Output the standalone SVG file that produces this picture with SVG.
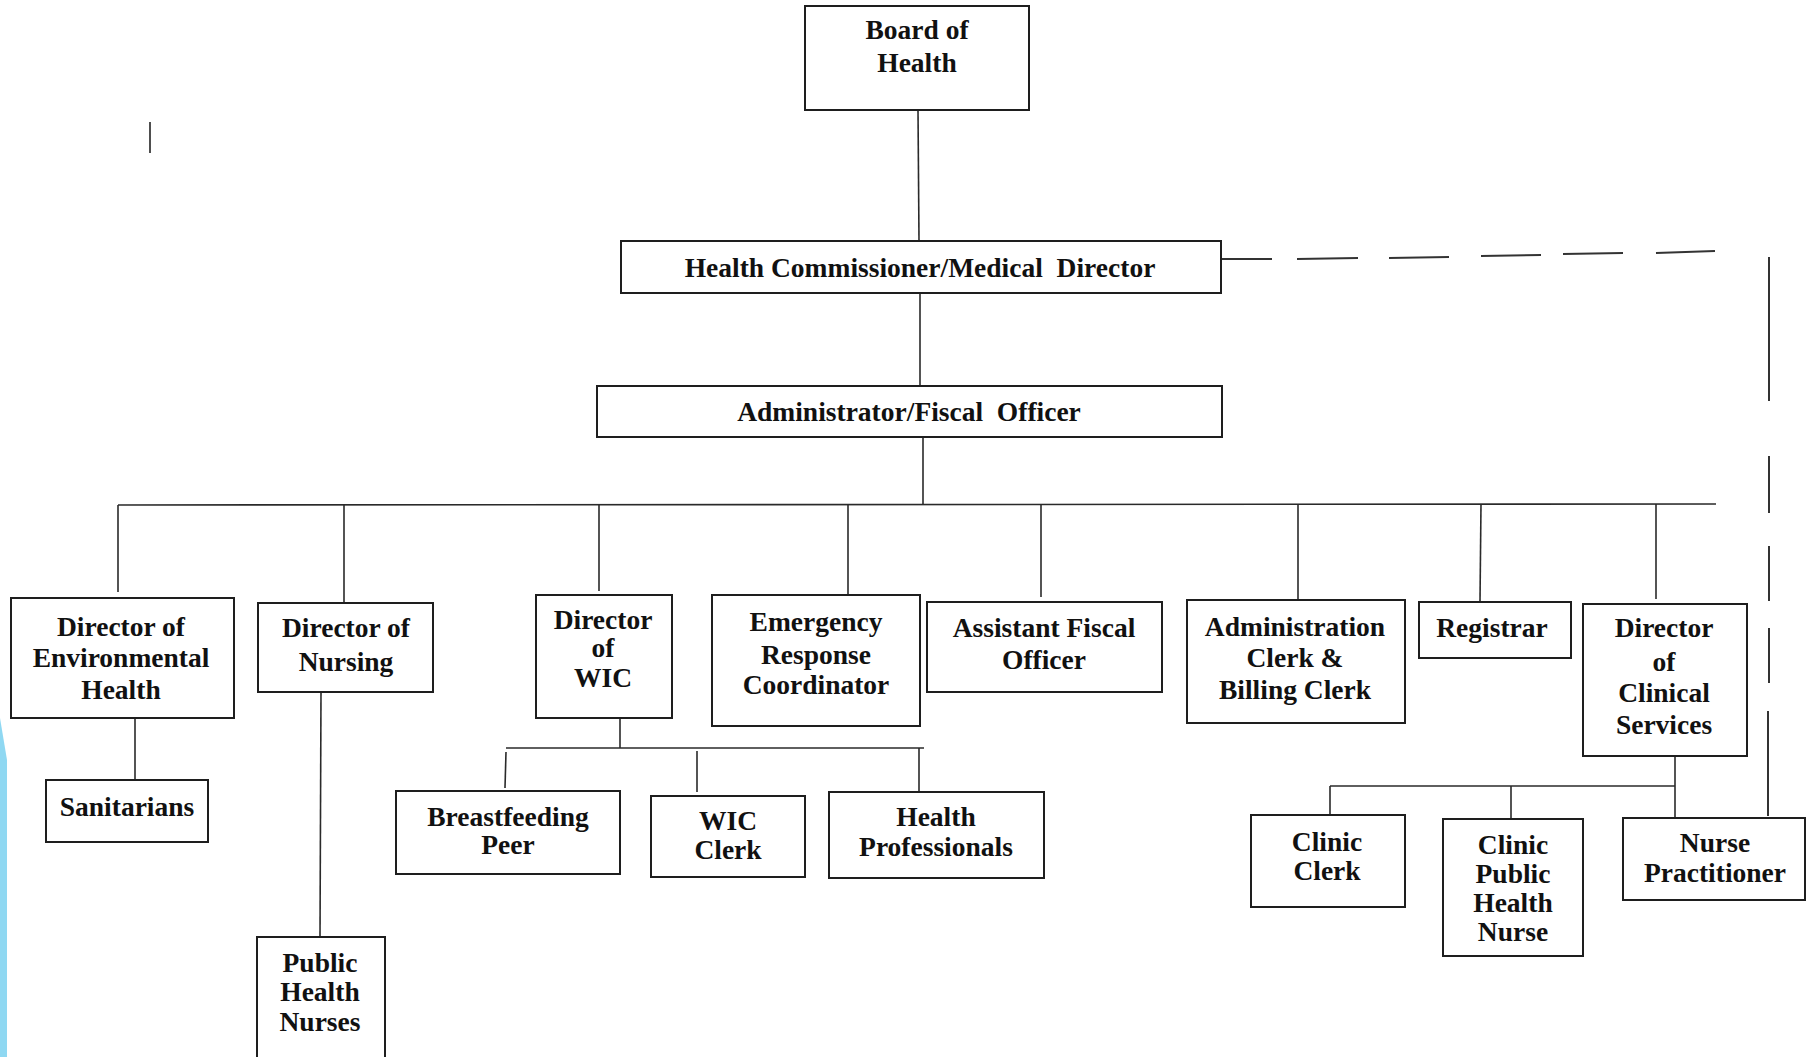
<svg xmlns="http://www.w3.org/2000/svg" width="1811" height="1057" viewBox="0 0 1811 1057">
<style>
.box{fill:#fff;stroke:#1e1e1e;stroke-width:2}
.t{font-family:"Liberation Serif","Times New Roman",serif;font-weight:bold;font-size:27.5px;fill:#111;text-anchor:middle;white-space:pre}
.c{stroke:#2a2a2a;stroke-width:1.6;fill:none}
.d{stroke:#333;stroke-width:2;fill:none}
</style>
<rect width="1811" height="1057" fill="#fff"/>
<polygon points="0,718 7,760 7,1057 0,1057" fill="#8fd8f2"/>
<line x1="150" y1="122" x2="150" y2="153" stroke="#222" stroke-width="1.6"/>

<g id="connectors">
<line class="c" x1="918" y1="110" x2="919" y2="241"/>
<line class="c" x1="920" y1="293" x2="920" y2="386"/>
<line class="c" x1="923" y1="437" x2="923" y2="505"/>
<line class="c" x1="118" y1="505" x2="1716" y2="504"/>
<line class="c" x1="118" y1="505" x2="118" y2="592"/>
<line class="c" x1="344" y1="505" x2="344" y2="603"/>
<line class="c" x1="599" y1="505" x2="599" y2="591"/>
<line class="c" x1="848" y1="505" x2="848" y2="595"/>
<line class="c" x1="1041" y1="505" x2="1041" y2="597"/>
<line class="c" x1="1298" y1="504" x2="1298" y2="600"/>
<line class="c" x1="1481" y1="504" x2="1480" y2="602"/>
<line class="c" x1="1656" y1="504" x2="1656" y2="599"/>
<line class="c" x1="135" y1="718" x2="135" y2="780"/>
<line class="c" x1="321" y1="692" x2="320" y2="937"/>
<line class="c" x1="620" y1="718" x2="620" y2="748"/>
<line class="c" x1="506" y1="748" x2="924" y2="748"/>
<line class="c" x1="506" y1="752" x2="505" y2="788"/>
<line class="c" x1="697" y1="751" x2="697" y2="792"/>
<line class="c" x1="919" y1="748" x2="919" y2="792"/>
<line class="c" x1="1675" y1="756" x2="1675" y2="818"/>
<line class="c" x1="1330" y1="786" x2="1675" y2="786"/>
<line class="c" x1="1330" y1="786" x2="1330" y2="815"/>
<line class="c" x1="1511" y1="786" x2="1511" y2="819"/>
<line class="d" x1="1221" y1="259" x2="1272" y2="259"/>
<line class="d" x1="1297" y1="259" x2="1358" y2="258"/>
<line class="d" x1="1389" y1="258" x2="1449" y2="257"/>
<line class="d" x1="1481" y1="256" x2="1541" y2="255"/>
<line class="d" x1="1563" y1="254" x2="1623" y2="253"/>
<line class="d" x1="1656" y1="253" x2="1715" y2="251"/>
<line class="d" x1="1769" y1="257" x2="1769" y2="401"/>
<line class="d" x1="1769" y1="456" x2="1769" y2="513"/>
<line class="d" x1="1769" y1="546" x2="1769" y2="601"/>
<line class="d" x1="1769" y1="628" x2="1769" y2="683"/>
<line class="d" x1="1768" y1="711" x2="1768" y2="816"/>
</g>

<g id="board"><rect class="box" x="805" y="6" width="224" height="104"/><text class="t" x="917" y="39">Board of</text><text class="t" x="917" y="72">Health</text></g>
<g id="hc"><rect class="box" x="621" y="241" width="600" height="52"/><text class="t" x="920" y="277">Health Commissioner/Medical  Director</text></g>
<g id="admin"><rect class="box" x="597" y="386" width="625" height="51"/><text class="t" x="909" y="421">Administrator/Fiscal  Officer</text></g>
<g id="env"><rect class="box" x="11" y="598" width="223" height="120"/><text class="t" x="121" y="636">Director of</text><text class="t" x="121" y="667">Environmental</text><text class="t" x="121" y="699">Health</text></g>
<g id="nursing"><rect class="box" x="258" y="603" width="175" height="89"/><text class="t" x="346" y="637">Director of</text><text class="t" x="346" y="671">Nursing</text></g>
<g id="wic"><rect class="box" x="536" y="595" width="136" height="123"/><text class="t" x="603" y="629">Director</text><text class="t" x="603" y="657">of</text><text class="t" x="603" y="687">WIC</text></g>
<g id="erc"><rect class="box" x="712" y="595" width="208" height="131"/><text class="t" x="816" y="631">Emergency</text><text class="t" x="816" y="664">Response</text><text class="t" x="816" y="694">Coordinator</text></g>
<g id="afo"><rect class="box" x="927" y="602" width="235" height="90"/><text class="t" x="1044" y="637">Assistant Fiscal</text><text class="t" x="1044" y="669">Officer</text></g>
<g id="acbc"><rect class="box" x="1187" y="600" width="218" height="123"/><text class="t" x="1295" y="636">Administration</text><text class="t" x="1295" y="667">Clerk &amp;</text><text class="t" x="1295" y="699">Billing Clerk</text></g>
<g id="registrar"><rect class="box" x="1419" y="602" width="152" height="56"/><text class="t" x="1492" y="637">Registrar</text></g>
<g id="dcs"><rect class="box" x="1583" y="604" width="164" height="152"/><text class="t" x="1664" y="637">Director</text><text class="t" x="1664" y="671">of</text><text class="t" x="1664" y="702">Clinical</text><text class="t" x="1664" y="734">Services</text></g>
<g id="sanitarians"><rect class="box" x="46" y="780" width="162" height="62"/><text class="t" x="127" y="816">Sanitarians</text></g>
<g id="phn"><rect class="box" x="257" y="937" width="128" height="135"/><text class="t" x="320" y="972">Public</text><text class="t" x="320" y="1001">Health</text><text class="t" x="320" y="1031">Nurses</text></g>
<g id="bfp"><rect class="box" x="396" y="791" width="224" height="83"/><text class="t" x="508" y="826">Breastfeeding</text><text class="t" x="508" y="854">Peer</text></g>
<g id="wicclerk"><rect class="box" x="651" y="796" width="154" height="81"/><text class="t" x="728" y="830">WIC</text><text class="t" x="728" y="859">Clerk</text></g>
<g id="hp"><rect class="box" x="829" y="792" width="215" height="86"/><text class="t" x="936" y="826">Health</text><text class="t" x="936" y="856">Professionals</text></g>
<g id="clinicclerk"><rect class="box" x="1251" y="815" width="154" height="92"/><text class="t" x="1327" y="851">Clinic</text><text class="t" x="1327" y="880">Clerk</text></g>
<g id="cphn"><rect class="box" x="1443" y="819" width="140" height="137"/><text class="t" x="1513" y="854">Clinic</text><text class="t" x="1513" y="883">Public</text><text class="t" x="1513" y="912">Health</text><text class="t" x="1513" y="941">Nurse</text></g>
<g id="np"><rect class="box" x="1623" y="818" width="182" height="82"/><text class="t" x="1715" y="852">Nurse</text><text class="t" x="1715" y="882">Practitioner</text></g>
</svg>
